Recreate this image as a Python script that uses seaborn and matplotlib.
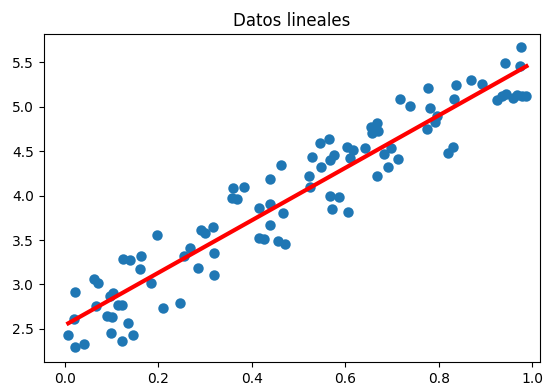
import numpy as np
import pandas as pd
import matplotlib
matplotlib.use("Agg")
import matplotlib.pyplot as plt
import seaborn as sns

# puntos
x = [0.007, 0.021, 0.041, 0.021, 0.020, 0.063, 0.071, 0.066, 0.096, 0.103,
     0.089, 0.100, 0.114, 0.121, 0.098, 0.121, 0.134, 0.145, 0.125, 0.139,
     0.162, 0.160, 0.198, 0.184, 0.210, 0.246, 0.255, 0.267, 0.284, 0.291,
     0.299, 0.317, 0.320, 0.320, 0.360, 0.383, 0.358, 0.369, 0.415, 0.439,
     0.466, 0.439, 0.415, 0.426, 0.456, 0.470, 0.462, 0.439, 0.546, 0.529,
     0.549, 0.522, 0.524, 0.565, 0.604, 0.616, 0.642, 0.575, 0.568, 0.611,
     0.682, 0.697, 0.714, 0.692, 0.667, 0.568, 0.586, 0.571, 0.605, 0.656,
     0.667, 0.657, 0.670, 0.718, 0.738, 0.777, 0.781, 0.793, 0.796, 0.774,
     0.821, 0.831, 0.832, 0.838, 0.870, 0.893, 0.976, 0.942, 0.974, 0.925,
     0.935, 0.944, 0.960, 0.967, 0.978, 0.988]
y = [2.43, 2.30, 2.33, 2.92, 2.61, 3.06, 3.02, 2.76, 2.87, 2.91,
     2.65, 2.64, 2.77, 2.77, 2.45, 2.37, 2.57, 2.43, 3.29, 3.27,
     3.32, 3.17, 3.56, 3.02, 2.74, 2.79, 3.32, 3.41, 3.19, 3.61,
     3.58, 3.65, 3.35, 3.11, 4.08, 4.10, 3.97, 3.96, 3.86, 3.90,
     3.80, 3.67, 3.52, 3.51, 3.49, 3.46, 4.34, 4.18, 4.59, 4.43,
     4.32, 4.22, 4.10, 4.64, 4.55, 4.51, 4.53, 4.46, 4.40, 4.42,
     4.47, 4.53, 4.41, 4.32, 4.22, 4.00, 3.98, 3.85, 3.82, 4.77,
     4.81, 4.70, 4.72, 5.09, 5.01, 5.21, 4.98, 4.83, 4.89, 4.75,
     4.48, 4.55, 5.08, 5.24, 5.30, 5.25, 5.67, 5.49, 5.46, 5.07,
     5.12, 5.14, 5.10, 5.13, 5.12, 5.12]

df = pd.DataFrame({"x": x, "y": y})

fig = plt.figure(figsize=(5.47, 3.89), dpi=100)
ax = fig.add_subplot(111)
fig.subplots_adjust(left=44/547, right=540/547, bottom=27/389, top=355/389)

sns.scatterplot(data=df, x="x", y="y", ax=ax, s=36, color="#1f77b4",
                edgecolor="#1f77b4", linewidth=1.5, zorder=2)
sns.regplot(data=df, x="x", y="y", ax=ax, scatter=False, ci=None,
            color="red", line_kws={"linewidth": 3, "zorder": 3})

ax.set_xlim(-0.045, 1.017)
ax.set_ylim(2.129, 5.815)
ax.set_xlabel("")
ax.set_ylabel("")
ax.set_title("Datos lineales")

fig.savefig("out.png", dpi=100)
